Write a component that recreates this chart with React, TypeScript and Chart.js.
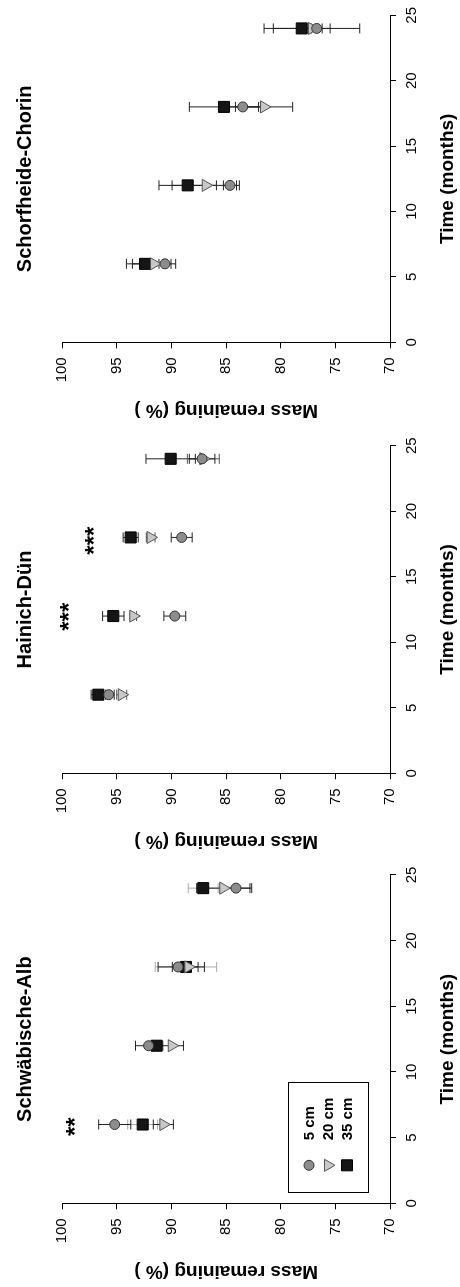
import React, { useEffect, useRef } from "react";
import { Chart, registerables } from "chart.js";

Chart.register(...registerables);

// ---------- data ----------
const TIMES = [6, 12, 18, 24];
const X_TICKS = [0, 5, 10, 15, 20, 25];
const Y_TICKS = [70, 75, 80, 85, 90, 95, 100];
const DEPTHS = ["5 cm", "20 cm", "35 cm"];
const X_TITLE = "Time (months)";
const Y_TITLE = "Mass remaining (% )";

// Schwäbische-Alb
const SA_5 = [95.2, 92.1, 89.4, 84.1];
const SA_5_ERR = [1.47, 1.2, 1.83, 1.44];
const SA_20 = [90.75, 89.98, 88.46, 85.26];
const SA_20_ERR = [0.92, 1.07, 1.47, 2.44];
const SA_35 = [92.64, 91.36, 88.68, 87.1];
const SA_35_ERR = [1.37, 0.6, 2.81, 1.37];
const SA_STARS = [{ x: 5.83, y: 99.1, text: "**" }];

// Hainich-Dün
const HD_5 = [95.75, 89.7, 89.07, 87.2];
const HD_5_ERR = [0.5, 1.0, 0.96, 1.17];
const HD_20 = [94.56, 93.5, 91.91, 87.09];
const HD_20_ERR = [0.46, 0.3, 0.4, 1.46];
const HD_35 = [96.7, 95.33, 93.74, 90.08];
const HD_35_ERR = [0.66, 0.98, 0.69, 2.26];
const HD_STARS = [
  { x: 11.95, y: 99.7, text: "***" },
  { x: 17.75, y: 97.4, text: "***" },
];

// Schorfheide-Chorin
const SC_5 = [90.6, 84.65, 83.48, 76.71];
const SC_5_ERR = [0.55, 0.6, 1.68, 0.5];
const SC_20 = [91.6, 86.87, 81.53, 77.15];
const SC_20_ERR = [1.98, 3.08, 2.62, 4.38];
const SC_35 = [92.43, 88.52, 85.2, 78.08];
const SC_35_ERR = [1.7, 2.63, 3.17, 2.6];
const SC_STARS: { x: number; y: number; text: string }[] = [];

// ---------- styles ----------
const FAMILY = "'Liberation Sans', Arial, sans-serif";
const STYLE = [
  { pointStyle: "circle", radius: 5, rotation: 0, fill: "#8c8c8c", stroke: "#333333" },
  { pointStyle: "triangle", radius: 7, rotation: 180, fill: "#c8c8c8", stroke: "#555555" },
  { pointStyle: "rect", radius: 7.8, rotation: 0, fill: "#151515", stroke: "#000000" },
];

const PANELS = [
  {
    title: "Schwäbische-Alb",
    means: [SA_5, SA_20, SA_35],
    errs: [SA_5_ERR, SA_20_ERR, SA_35_ERR],
    errColors: ["#222222", "#222222", "#aaaaaa"],
    stars: SA_STARS,
    legend: true,
    left: 83.7,
    right: 412,
  },
  {
    title: "Hainich-Dün",
    means: [HD_5, HD_20, HD_35],
    errs: [HD_5_ERR, HD_20_ERR, HD_35_ERR],
    errColors: ["#222222", "#555555", "#222222"],
    stars: HD_STARS,
    legend: false,
    left: 84.7,
    right: 412.3,
  },
  {
    title: "Schorfheide-Chorin",
    means: [SC_5, SC_20, SC_35],
    errs: [SC_5_ERR, SC_20_ERR, SC_35_ERR],
    errColors: ["#222222", "#222222", "#222222"],
    stars: SC_STARS,
    legend: false,
    left: 86.7,
    right: 415,
  },
];

const PANEL_W = 429;
const PANEL_H = 460;

const errorBarPlugin = {
  id: "errorBars",
  beforeDatasetsDraw(chart: any) {
    const { ctx, scales } = chart;
    const x = scales.x;
    const y = scales.y;
    const dss = chart.data.datasets;
    for (let d = dss.length - 1; d >= 0; d--) {
      const ds = dss[d];
      ctx.save();
      ctx.strokeStyle = ds.errColor;
      ctx.lineWidth = 1;
      ds.data.forEach((p: any, i: number) => {
        const e = ds.errs[i];
        const px = x.getPixelForValue(p.x);
        const top = y.getPixelForValue(p.y + e);
        const bot = y.getPixelForValue(p.y - e);
        ctx.beginPath();
        ctx.moveTo(px, top);
        ctx.lineTo(px, bot);
        ctx.moveTo(px - 5, top);
        ctx.lineTo(px + 5, top);
        ctx.moveTo(px - 5, bot);
        ctx.lineTo(px + 5, bot);
        ctx.stroke();
      });
      ctx.restore();
    }
  },
};

const extrasPlugin = {
  id: "extras",
  afterDraw(chart: any) {
    const { ctx, scales, chartArea } = chart;
    const opts = chart.options.plugins.extras || {};
    const stars = opts.stars || [];
    ctx.save();
    ctx.fillStyle = "#000";
    ctx.font = `bold 24px ${FAMILY}`;
    ctx.textAlign = "center";
    ctx.textBaseline = "alphabetic";
    stars.forEach((s: any) => {
      const px = scales.x.getPixelForValue(s.x);
      const py = scales.y.getPixelForValue(s.y);
      ctx.fillText(s.text, px, py + 24 * 0.47);
    });
    ctx.restore();

    if (opts.legend) {
      const bx = chartArea.left + 10;
      const by = chartArea.bottom - 102;
      const bw = 110;
      const bh = 80;
      ctx.save();
      ctx.strokeStyle = "#000";
      ctx.lineWidth = 1;
      ctx.strokeRect(Math.round(bx) + 0.5, Math.round(by) + 0.5, bw, bh);
      ctx.font = `bold 15px ${FAMILY}`;
      ctx.textAlign = "left";
      ctx.textBaseline = "middle";
      DEPTHS.forEach((label, i) => {
        const st = STYLE[i];
        const cy = by + 21 + i * 19;
        const cx = bx + 28;
        ctx.save();
        ctx.fillStyle = st.fill;
        ctx.strokeStyle = st.stroke;
        ctx.lineWidth = 1;
        ctx.beginPath();
        if (st.pointStyle === "circle") {
          ctx.arc(cx, cy, st.radius, 0, Math.PI * 2);
        } else if (st.pointStyle === "triangle") {
          const r = st.radius;
          ctx.moveTo(cx, cy + r);
          ctx.lineTo(cx - r * 0.866, cy - r * 0.5);
          ctx.lineTo(cx + r * 0.866, cy - r * 0.5);
          ctx.closePath();
        } else {
          const h = st.radius * Math.SQRT1_2;
          ctx.rect(cx - h, cy - h, 2 * h, 2 * h);
        }
        ctx.fill();
        ctx.stroke();
        ctx.restore();
        ctx.fillStyle = "#000";
        ctx.fillText(label, bx + 53, cy + 1);
      });
      ctx.restore();
    }
  },
};

function Panel({ panel }: { panel: any }) {
  const ref = useRef<HTMLCanvasElement | null>(null);

  useEffect(() => {
    if (!ref.current) return;
    const datasets = panel.means.map((vals: number[], k: number) => ({
      label: DEPTHS[k],
      data: TIMES.map((t, i) => ({ x: t, y: vals[i] })),
      errs: panel.errs[k],
      errColor: panel.errColors[k],
      pointStyle: STYLE[k].pointStyle,
      pointRadius: STYLE[k].radius,
      pointRotation: STYLE[k].rotation,
      backgroundColor: STYLE[k].fill,
      borderColor: STYLE[k].stroke,
      pointBorderWidth: 1,
      showLine: false,
    }));
    const tickFont = { size: 15, family: FAMILY };
    const titleFont = { size: 19, weight: "bold" as const, family: FAMILY, lineHeight: 1.2 };
    const chart = new Chart(ref.current, {
      type: "scatter",
      data: { datasets },
      plugins: [errorBarPlugin, extrasPlugin],
      options: {
        animation: false,
        responsive: false,
        maintainAspectRatio: false,
        layout: { padding: { left: 0, right: PANEL_W - panel.right, top: 0, bottom: 0 } },
        plugins: {
          legend: { display: false },
          tooltip: { enabled: false },
          title: {
            display: true,
            text: panel.title,
            fullSize: false,
            color: "#000",
            font: { size: 20, weight: "bold", family: FAMILY, lineHeight: 1.2 },
            padding: { top: 13, bottom: 25.3 },
          },
          extras: { stars: panel.stars, legend: panel.legend },
        } as any,
        scales: {
          x: {
            type: "linear",
            min: 0,
            max: 25,
            afterBuildTicks: (s: any) => {
              s.ticks = X_TICKS.map((v) => ({ value: v }));
            },
            afterFit: (s: any) => {
              s.height = 70;
            },
            grid: { drawOnChartArea: false, drawTicks: true, tickLength: 6, color: "#000", lineWidth: 1 },
            border: { display: true, color: "#000", width: 1 },
            ticks: { color: "#000", font: tickFont, padding: 7, maxRotation: 0, minRotation: 0 },
            title: { display: true, text: X_TITLE, color: "#000", font: titleFont, padding: { top: 0, bottom: 0.6 } },
          },
          y: {
            type: "linear",
            min: 70,
            max: 100,
            afterBuildTicks: (s: any) => {
              s.ticks = Y_TICKS.map((v) => ({ value: v }));
            },
            afterFit: (s: any) => {
              s.width = panel.left;
            },
            grid: { drawOnChartArea: false, drawTicks: true, tickLength: 6, color: "#000", lineWidth: 1 },
            border: { display: true, color: "#000", width: 1 },
            ticks: { color: "#000", font: tickFont, padding: 9 },
            title: {
              display: true,
              text: Y_TITLE,
              color: "#000",
              font: titleFont,
              padding: { top: panel.left - 68.2 - 11.4, bottom: 0 },
            },
          },
        },
      } as any,
    });
    return () => chart.destroy();
  }, [panel]);

  return (
    <div style={{ width: PANEL_W, height: PANEL_H, flex: "0 0 auto" }}>
      <canvas ref={ref} width={PANEL_W} height={PANEL_H} style={{ display: "block" }} />
    </div>
  );
}

export default function App() {
  return (
    <div
      style={{
        position: "absolute",
        left: 0,
        top: 0,
        width: 460,
        height: 1287,
        overflow: "hidden",
        background: "#fff",
      }}
    >
      <div
        style={{
          position: "absolute",
          left: 0,
          top: 0,
          width: PANEL_W * 3,
          height: PANEL_H,
          display: "flex",
          transformOrigin: "0 0",
          transform: `translate(0px, ${PANEL_W * 3}px) rotate(-90deg)`,
          background: "#fff",
        }}
      >
        {PANELS.map((p) => (
          <Panel key={p.title} panel={p} />
        ))}
      </div>
    </div>
  );
}
